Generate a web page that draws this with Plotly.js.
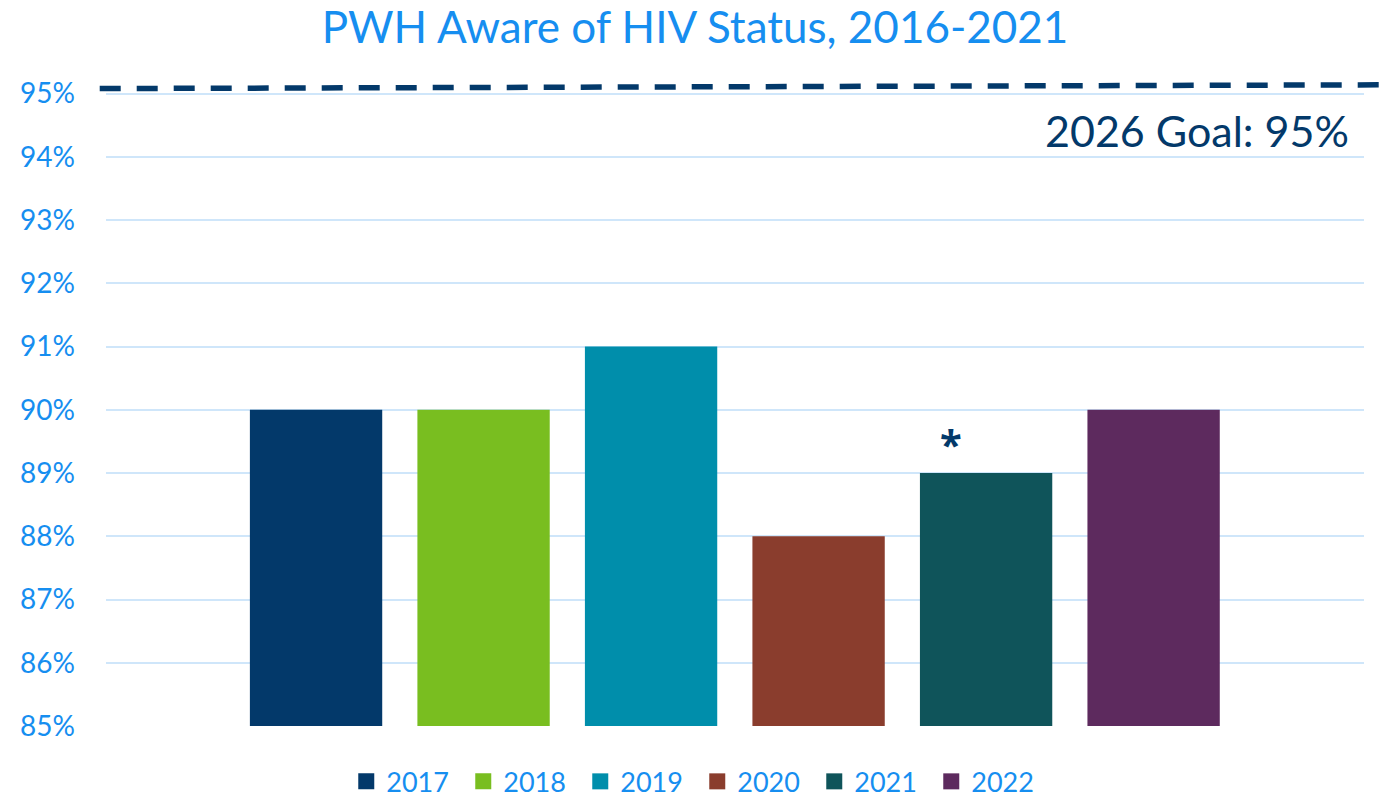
<!DOCTYPE html>
<html>
<head>
<meta charset="utf-8">
<script src="https://cdn.plot.ly/plotly-3.0.1.min.js"></script>
<style>html,body{margin:0;padding:0;background:#fff;}#chart{width:1390px;height:798px;}</style>
</head>
<body>
<div id="chart"></div>
<script>
const years = ["2017", "2018", "2019", "2020", "2021", "2022"];
const awarePct = [90, 90, 91, 88, 89, 90];
const barColors = ["#03396A", "#79BE20", "#008EAB", "#8A3D2D", "#0F545A", "#5D2A5E"];
const yTicks = [85, 86, 87, 88, 89, 90, 91, 92, 93, 94, 95];
const yTickLabels = yTicks.map(v => v + "%");
const goalValue = 95;
const goalLabel = "2026 Goal: 95%";
const titleText = "PWH Aware of HIV Status, 2016-2021";
const starredYear = "2021";

const FONT = "Lato, 'Noto Sans', sans-serif";
const BLUE = "#168EF0";
const NAVY = "#03396A";

const traces = [];
years.forEach((yr, i) => {
  traces.push({
    type: "bar",
    x: [yr],
    y: [awarePct[i]],
    width: 0.79,
    marker: {color: barColors[i]},
    name: yr,
    legendgroup: yr,
    showlegend: false,
    hoverinfo: "x+y"
  });
});
years.forEach((yr, i) => {
  traces.push({
    type: "scatter",
    mode: "markers",
    x: [null],
    y: [null],
    marker: {color: barColors[i], symbol: "square", size: 16},
    name: yr,
    legendgroup: yr,
    showlegend: true
  });
});

const starIdx = years.indexOf(starredYear);

const layout = {
  width: 1390,
  height: 798,
  margin: {l: 106, r: 26, t: 81, b: 72, autoexpand: false},
  paper_bgcolor: "#ffffff",
  plot_bgcolor: "#ffffff",
  barmode: "overlay",
  font: {family: FONT, color: BLUE},
  title: {
    text: titleText,
    font: {family: FONT, size: 44, color: BLUE},
    x: 0.5, xanchor: "center",
    y: 0.965, yanchor: "middle"
  },
  xaxis: {
    type: "category",
    categoryorder: "array",
    categoryarray: years,
    range: [-1.254, 6.256],
    showticklabels: false,
    showgrid: false,
    zeroline: false,
    showline: false,
    ticks: ""
  },
  yaxis: {
    range: [85, 95.2],
    tickvals: yTicks,
    ticktext: yTickLabels,
    tickfont: {family: FONT, size: 28, color: BLUE},
    showgrid: true,
    gridcolor: "#CFE6FA",
    gridwidth: 2,
    zeroline: false,
    showline: false,
    ticks: "",
    ticklabelstandoff: 30,
    automargin: false
  },
  showlegend: true,
  legend: {
    orientation: "h",
    xref: "paper", yref: "container",
    x: 0.47, xanchor: "center",
    y: 0.051, yanchor: "top",
    entrywidth: 72,
    font: {family: FONT, size: 27, color: BLUE},
    itemclick: false, itemdoubleclick: false,
    tracegroupgap: 0
  },
  shapes: [{
    type: "line",
    xref: "paper", yref: "y",
    x0: -0.005, x1: 1.021,
    y0: goalValue + 0.08, y1: goalValue + 0.14,
    line: {color: NAVY, width: 5.5, dash: "21px,16px"},
    layer: "above"
  }],
  annotations: [
    {
      text: goalLabel,
      xref: "paper", yref: "y",
      x: 0.9895, xanchor: "right",
      y: 94.42, yanchor: "middle",
      showarrow: false,
      font: {family: FONT, size: 43, color: NAVY}
    },
    {
      text: "<b>*</b>",
      xref: "x", yref: "y",
      x: starIdx, y: awarePct[starIdx],
      xshift: -35, yshift: 0,
      yanchor: "bottom",
      showarrow: false,
      font: {family: "'Noto Sans', sans-serif", size: 40, color: NAVY}
    }
  ]
};

Plotly.newPlot("chart", traces, layout, {displayModeBar: false, responsive: false});
</script>
</body>
</html>
